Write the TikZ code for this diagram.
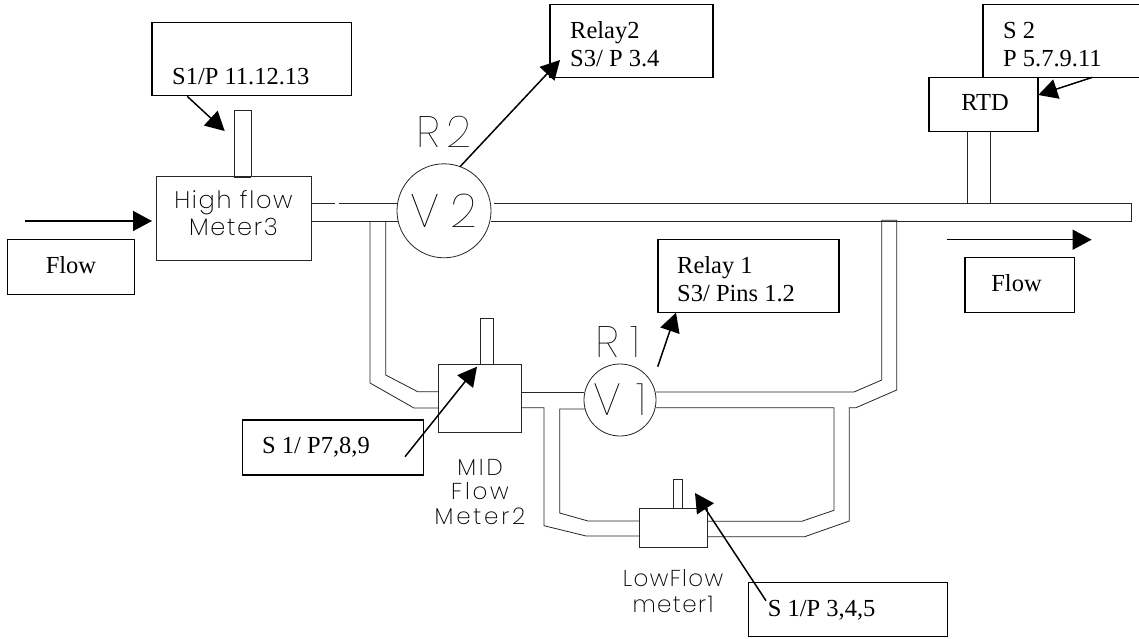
\documentclass[tikz,border=0pt]{standalone}
\usepackage{fontspec}
\setmainfont{Liberation Serif}
\newfontfamily\cadthin{Poppins Thin}
\newfontfamily\cadxl{Poppins ExtraLight}
\usetikzlibrary{arrows.meta}
\newcommand{\lab}[1]{\fontsize{#1}{#1}\selectfont}
% family, size, leading, letter space
\newcommand{\cadf}[4]{#1\addfontfeature{LetterSpace=#4}\fontsize{#2}{#3}\selectfont}
\tikzset{
  x=1pt,y=-1pt,
  box/.style={draw=black,line width=1.4pt,fill=white,inner sep=0pt},
  thinbox/.style={draw=black!85,line width=0.8pt,inner sep=0pt},
  pipe/.style={draw=black!85,line width=0.8pt},
  arr/.style={draw=black,line width=1.5pt,-{Triangle[length=19pt,width=20pt]},shorten >=0pt},
  txt/.style={anchor=base west,inner sep=0pt,font=\lab{24.5}},
  ctxt/.style={inner sep=0pt,font=\lab{24.5}},
  cadtxt/.style={inner sep=0pt,align=center,text=black},
  valve/.style={circle,draw=black!85,line width=0.8pt,inner sep=0pt,text=black},
}
\begin{document}
\begin{tikzpicture}
\useasboundingbox (0,0) rectangle (1139,639);
\fill[white] (0,0) rectangle (1139,639);
% boxes
\node[box,minimum width=199.5pt,minimum height=73pt] (s1) at (251.75,59.2) {};
\node[box,minimum width=163pt,minimum height=72.6pt] (relay2) at (631.5,41) {};
\node[inner sep=0pt,minimum width=156pt,minimum height=72.4pt] (s2) at (1061,41) {};
\draw[line width=1.4pt] (s2.north east) -- (s2.north west) -- (s2.south west) -- (s2.south east);
\node[box,minimum width=109pt,minimum height=54.4pt] (rtd) at (983.5,104.5) {};
\node[box,minimum width=181pt,minimum height=73pt] (relay1) at (748.5,275.8) {};
\node[box,minimum width=127pt,minimum height=55pt] (flowL) at (71,266.8) {};
\node[box,minimum width=109.5pt,minimum height=55pt] (flowR) at (1019.75,284.8) {};
\node[box,minimum width=181.4pt,minimum height=55pt] (s1p7) at (333,447.5) {};
\node[box,minimum width=199pt,minimum height=54pt] (s1p3) at (847.8,609.7) {};
% box texts
\node[txt] (t1) at (172,85) {S1/P 11.12.13};
\node[txt] (t2) at (570,38.3) {Relay2};
\node[txt] (t3) at (570,66.7) {S3/ P 3.4};
\node[txt] (t4) at (1003,38.3) {S 2};
\node[txt] (t5) at (1003,66.7) {P 5.7.9.11};
\node[ctxt] (t6) at (985,103) {RTD};
\node[txt] (t7) at (677,273.3) {Relay 1};
\node[txt] (t8) at (677,301.7) {S3/ Pins 1.2};
\node[ctxt] (t9) at (71,265) {Flow};
\node[ctxt] (t10) at (1016.5,283) {Flow};
\node[txt] (t11) at (262,453) {S 1/ P7,8,9};
\node[txt] (t12) at (767.7,616) {S 1/P 3,4,5};
% meters
\node[thinbox,minimum width=155pt,minimum height=83.3pt] (hf) at (233.5,218.3) {};
\node[cadtxt,font=\cadf{\cadxl}{24}{26.7}{7}] (hft) at (233.5,213) {High flow\\Meter3};
\node[thinbox,minimum width=83.4pt,minimum height=68pt] (mid) at (480,398) {};
\node[thinbox,minimum width=68pt,minimum height=39.7pt] (low) at (673.3,527.85) {};
\node[thinbox,minimum width=17pt,minimum height=66.7pt] (st1) at (242.5,143.3) {};
\node[thinbox,minimum width=13.3pt,minimum height=46pt] (st2) at (486.65,341) {};
\node[thinbox,minimum width=9.7pt,minimum height=28.3pt] (st3) at (677.85,493.85) {};
\node[valve,minimum size=94pt,font=\cadf{\cadthin}{47}{47}{22}] (v2) at (444,210.8) {V2};
\node[valve,minimum size=72pt,font=\cadf{\cadthin}{45}{45}{35}] (v1) at (620,400) {V1};
\node[cadtxt,font=\cadf{\cadthin}{44}{44}{15}] (r2) at (444,132) {R2};
\node[cadtxt,font=\cadf{\cadthin}{44}{44}{25}] (r1) at (618,342.5) {R1};
\node[cadtxt,font=\cadf{\cadxl}{23}{24.5}{12}] (midt) at (480,492) {MID\\Flow\\Meter2};
\node[cadtxt,font=\cadf{\cadxl}{23}{26}{6}] (lowt) at (673,591) {LowFlow\\meter1};
% pipes
\draw[pipe] (hf.east |- 0,203.3) -- (334.5,203.3);
\draw[pipe] (339,203.3) -- (398,203.3);
\draw[pipe] (hf.east |- 0,221) -- (398,221);
\draw[pipe] (494,203.3) -- (1131,203.3) -- (1131,221) -- (491,221);
\draw[pipe] (rtd.south -| 967,0) -- (967,203.3);
\draw[pipe] (rtd.south -| 990,0) -- (990,203.3);
\draw[pipe] (370,221) -- (370,383) -- (414,408) -- (mid.west |- 0,408);
\draw[pipe] (385.7,221) -- (385.7,375) -- (417.7,391.7) -- (mid.west |- 0,391.7);
\draw[pipe] (st1.south west) -- (st1.south east);
\draw[pipe] (mid.east |- 0,392) -- (584,392);
\draw[pipe] (mid.east |- 0,407.7) -- (544,407.7) -- (544,525.7) -- (586,536) -- (low.west |- 0,536);
\draw[pipe] (585,409) -- (559.7,409) -- (559.7,513) -- (588,521) -- (low.west |- 0,521);
\draw[pipe] (656,392) -- (854,392) -- (881.7,380) -- (881.7,220.3) -- (896.7,220.3) -- (896.7,390) -- (856,407.7) -- (849.3,407.7) -- (849.3,521) -- (804.7,536.7) -- (low.east |- 0,536.7);
\draw[pipe] (656,407.7) -- (834,407.7) -- (834,510.3) -- (801.7,521.3) -- (low.east |- 0,521.3);
% arrow ends
\coordinate (a1e) at (224.7,131);
\coordinate (a2s) at (460,166.7);
\coordinate (a2e) at (560,60);
\coordinate (a3e) at (1038.3,95);
\coordinate (a4s) at (25,221);
\coordinate (a4e) at (152,221);
\coordinate (a5s) at (947,239.7);
\coordinate (a5e) at (1091.6,239.7);
\coordinate (a6s) at (405,456.7);
\coordinate (a6e) at (477,366.7);
\coordinate (a7s) at (657.7,366.7);
\coordinate (a7e) at (676,312.7);
\coordinate (a8s) at (766,600.7);
\coordinate (a8e) at (695,493);
\draw[arr] ([xshift=36pt]s1.south west) -- (a1e);
\draw[arr] (a2s) -- (a2e);
\draw[arr] ([xshift=-47pt]s2.south east) -- (a3e);
\draw[arr] (a4s) -- (a4e);
\draw[arr] (a5s) -- (a5e);
\draw[arr] (a6s) -- (a6e);
\draw[arr] (a7s) -- (a7e);
\draw[arr] (a8s) -- (a8e);
\end{tikzpicture}
\end{document}
